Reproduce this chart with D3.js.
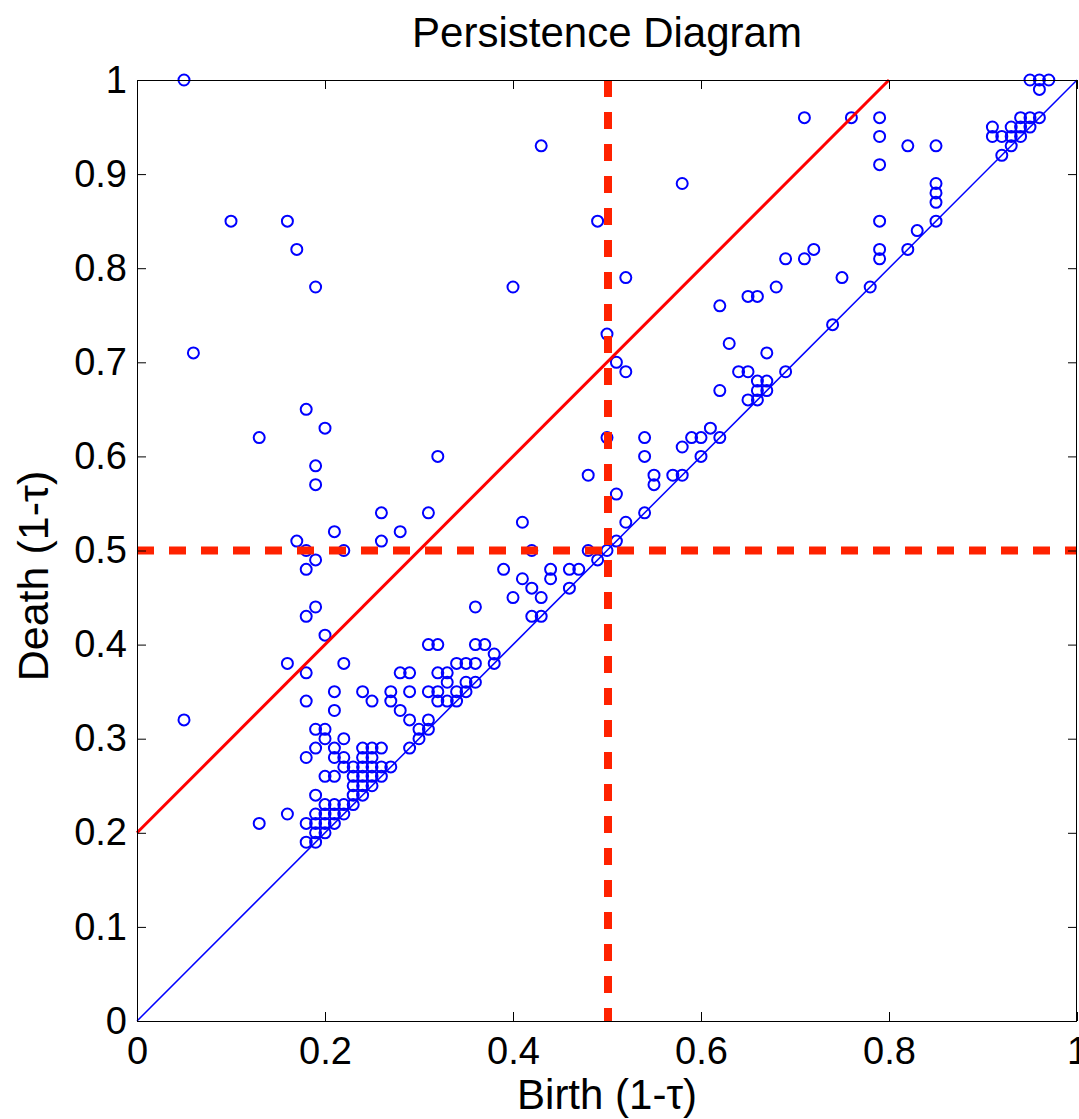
<!DOCTYPE html>
<html>
<head>
<meta charset="utf-8">
<script src="https://cdn.jsdelivr.net/npm/d3@7"></script>
<style>
  html, body { margin: 0; padding: 0; background: #fff; }
  text { font-family: "Liberation Sans", Arial, sans-serif; fill: #000; }
</style>
</head>
<body>
<div id="chart"></div>
<script>
// persistence diagram: each point is (birth, death) of a feature, both as 1-tau

// birth values (grid of 0.01)
const births = [
  // scattered points far from the diagonal
  0.05, 0.10, 0.16, 0.17, 0.19, 0.06, 0.18, 0.13, 0.20, 0.19, 0.19, 0.32, 0.43, 0.40, 0.49, 0.52, 0.58, 0.50, 0.51, 0.52,
  // upper right
  0.71, 0.76, 0.79, 0.79, 0.79, 0.82, 0.85, 0.85, 0.85, 0.85, 0.85, 0.79, 0.79, 0.79, 0.82, 0.83, 0.71, 0.72, 0.75, 0.78, 0.74,
  0.95, 0.96, 0.97, 0.96, 0.91, 0.91, 0.92, 0.92, 0.93, 0.93, 0.93, 0.94, 0.94, 0.94, 0.95, 0.95, 0.96,
  // middle band
  0.69, 0.68, 0.65, 0.66, 0.62, 0.63, 0.67, 0.64, 0.65, 0.66, 0.67, 0.66, 0.67, 0.65, 0.66, 0.69, 0.62,
  0.61, 0.62, 0.60, 0.59, 0.60, 0.58, 0.57, 0.58, 0.54, 0.54, 0.55, 0.55, 0.54, 0.52, 0.51, 0.50, 0.48,
  0.51, 0.50, 0.49, 0.48, 0.47, 0.46, 0.46, 0.44, 0.44, 0.43, 0.43, 0.42, 0.42, 0.41, 0.41, 0.42, 0.39, 0.40, 0.36,
  // left, around 0.5
  0.31, 0.28, 0.26, 0.26, 0.21, 0.22, 0.17, 0.18, 0.18, 0.19, 0.19, 0.18, 0.20,
  // lower left cluster
  0.16, 0.18, 0.22, 0.18, 0.21, 0.21, 0.24, 0.25, 0.27, 0.27, 0.28, 0.29, 0.29, 0.28, 0.29, 0.30, 0.30, 0.29, 0.31, 0.31,
  0.31, 0.32, 0.36, 0.37, 0.38, 0.38, 0.34, 0.35, 0.36, 0.32, 0.33, 0.33, 0.35, 0.36, 0.31, 0.32, 0.34, 0.35, 0.32, 0.33, 0.34,
  0.05, 0.13, 0.16,
  0.19, 0.20,
  0.20, 0.22,
  0.19, 0.21, 0.24, 0.25, 0.26,
  0.18, 0.21, 0.22, 0.24, 0.25,
  0.22, 0.23, 0.24, 0.25, 0.26, 0.27,
  0.20, 0.21, 0.23, 0.24, 0.25, 0.26,
  0.23, 0.24, 0.25,
  0.19, 0.23, 0.24,
  0.20, 0.21, 0.22, 0.23,
  0.19, 0.20, 0.21, 0.22,
  0.18, 0.19, 0.20, 0.21,
  0.19, 0.20,
  0.18, 0.19
];

// death values, same order as births
const deaths = [
  1.00, 0.85, 0.85, 0.82, 0.78, 0.71, 0.65, 0.62, 0.63, 0.59, 0.57, 0.60, 0.93, 0.78, 0.85, 0.79, 0.89, 0.73, 0.70, 0.69,
  0.96, 0.96, 0.96, 0.94, 0.91, 0.93, 0.93, 0.89, 0.88, 0.87, 0.85, 0.85, 0.82, 0.81, 0.82, 0.84, 0.81, 0.82, 0.79, 0.78, 0.74,
  1.00, 1.00, 1.00, 0.99, 0.95, 0.94, 0.94, 0.92, 0.95, 0.94, 0.93, 0.96, 0.95, 0.94, 0.96, 0.95, 0.96,
  0.81, 0.78, 0.77, 0.77, 0.76, 0.72, 0.71, 0.69, 0.69, 0.68, 0.68, 0.67, 0.67, 0.66, 0.66, 0.69, 0.67,
  0.63, 0.62, 0.62, 0.62, 0.60, 0.61, 0.58, 0.58, 0.62, 0.60, 0.58, 0.57, 0.54, 0.53, 0.56, 0.62, 0.58,
  0.51, 0.50, 0.49, 0.50, 0.48, 0.48, 0.46, 0.48, 0.47, 0.45, 0.43, 0.43, 0.50, 0.53, 0.47, 0.46, 0.48, 0.45, 0.44,
  0.54, 0.52, 0.54, 0.51, 0.52, 0.50, 0.51, 0.50, 0.48, 0.49, 0.44, 0.43, 0.41,
  0.38, 0.37, 0.38, 0.34, 0.35, 0.33, 0.35, 0.34, 0.35, 0.34, 0.37, 0.37, 0.35, 0.33, 0.32, 0.31, 0.30, 0.29, 0.32, 0.31,
  0.40, 0.40, 0.40, 0.40, 0.39, 0.38, 0.38, 0.38, 0.38, 0.37, 0.37, 0.36, 0.36, 0.36, 0.35, 0.35, 0.35, 0.35, 0.34, 0.34, 0.34,
  0.32, 0.21, 0.22,
  0.31, 0.31,
  0.30, 0.30,
  0.29, 0.29, 0.29, 0.29, 0.29,
  0.28, 0.28, 0.28, 0.28, 0.28,
  0.27, 0.27, 0.27, 0.27, 0.27, 0.27,
  0.26, 0.26, 0.26, 0.26, 0.26, 0.26,
  0.25, 0.25, 0.25,
  0.24, 0.24, 0.24,
  0.23, 0.23, 0.23, 0.23,
  0.22, 0.22, 0.22, 0.22,
  0.21, 0.21, 0.21, 0.21,
  0.20, 0.20,
  0.19, 0.19
];

const xTicks = [0, 0.2, 0.4, 0.6, 0.8, 1];
const yTicks = [0, 0.1, 0.2, 0.3, 0.4, 0.5, 0.6, 0.7, 0.8, 0.9, 1];

// reference lines
const thresholdBirth = 0.5;
const thresholdDeath = 0.5;
const persistenceOffset = 0.2; // red line: death = birth + 0.2

const width = 1079;
const height = 1119;
const plotLeft = 137, plotRight = 1077, plotTop = 80, plotBottom = 1021;

const svg = d3.select("#chart")
  .append("svg")
  .attr("width", width)
  .attr("height", height)
  .style("background", "#fff");

const x = d3.scaleLinear().domain([0, 1]).range([plotLeft, plotRight]);
const y = d3.scaleLinear().domain([0, 1]).range([plotBottom, plotTop]);

const fmt = d => d === 0 ? "0" : d === 1 ? "1" : String(d);

// points first, lines drawn on top of them like the original
const points = births.map((b, i) => ({ b: b, d: deaths[i] }));

svg.append("g")
  .selectAll("circle")
  .data(points)
  .enter()
  .append("circle")
  .attr("cx", p => x(p.b))
  .attr("cy", p => y(p.d))
  .attr("r", 5.5)
  .style("fill", "none")
  .style("stroke", "#0000ff")
  .style("stroke-width", 2);

// diagonal
svg.append("line")
  .attr("x1", x(0)).attr("y1", y(0))
  .attr("x2", x(1)).attr("y2", y(1))
  .style("stroke", "#0000ff")
  .style("stroke-width", 1.5);

// offset line
svg.append("line")
  .attr("x1", x(0)).attr("y1", y(persistenceOffset))
  .attr("x2", x(1 - persistenceOffset)).attr("y2", y(1))
  .style("stroke", "#ff0000")
  .style("stroke-width", 3);

// dashed thresholds
svg.append("line")
  .attr("x1", x(thresholdBirth) + 1).attr("y1", y(1))
  .attr("x2", x(thresholdBirth) + 1).attr("y2", y(0))
  .style("stroke", "#ff2200")
  .style("stroke-width", 8)
  .style("stroke-dasharray", "17,15");

svg.append("line")
  .attr("x1", x(0)).attr("y1", y(thresholdDeath))
  .attr("x2", x(1)).attr("y2", y(thresholdDeath))
  .style("stroke", "#ff2200")
  .style("stroke-width", 8)
  .style("stroke-dasharray", "17,15");

// axes, matlab style: box with inward ticks on every side
function styleAxis(g) {
  g.select(".domain").remove();
  g.selectAll(".tick line").style("stroke", "#000").style("stroke-width", 1);
  g.selectAll(".tick text")
    .style("font-family", '"Liberation Sans", Arial, sans-serif')
    .style("font-size", "38px")
    .style("fill", "#000");
}

svg.append("g")
  .attr("transform", `translate(0,${plotBottom})`)
  .call(d3.axisBottom(x).tickValues(xTicks).tickFormat(fmt).tickSizeInner(-9).tickSizeOuter(0).tickPadding(16))
  .call(styleAxis);

svg.append("g")
  .attr("transform", `translate(0,${plotTop})`)
  .call(d3.axisTop(x).tickValues(xTicks).tickFormat("").tickSizeInner(-9).tickSizeOuter(0))
  .call(styleAxis);

svg.append("g")
  .attr("transform", `translate(${plotLeft},0)`)
  .call(d3.axisLeft(y).tickValues(yTicks).tickFormat(fmt).tickSizeInner(-9).tickSizeOuter(0).tickPadding(10))
  .call(styleAxis);

svg.append("g")
  .attr("transform", `translate(${plotRight},0)`)
  .call(d3.axisRight(y).tickValues(yTicks).tickFormat("").tickSizeInner(-9).tickSizeOuter(0))
  .call(styleAxis);

svg.append("rect")
  .attr("x", plotLeft + 0.5)
  .attr("y", plotTop + 0.5)
  .attr("width", plotRight - plotLeft - 1)
  .attr("height", plotBottom - plotTop)
  .style("fill", "none")
  .style("stroke", "#000")
  .style("stroke-width", 1);

// titles
svg.append("text")
  .attr("x", (plotLeft + plotRight) / 2)
  .attr("y", 47)
  .attr("text-anchor", "middle")
  .style("font-size", "42px")
  .text("Persistence Diagram");

svg.append("text")
  .attr("x", (plotLeft + plotRight) / 2)
  .attr("y", 1109)
  .attr("text-anchor", "middle")
  .style("font-size", "42px")
  .text("Birth (1-τ)");

svg.append("text")
  .attr("transform", "translate(48,576) rotate(-90)")
  .attr("text-anchor", "middle")
  .style("font-size", "43px")
  .text("Death (1-τ)");
</script>
</body>
</html>
